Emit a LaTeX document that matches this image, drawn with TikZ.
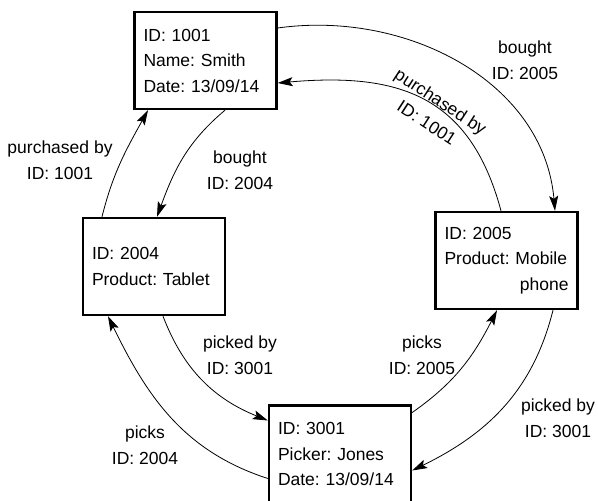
\documentclass[tikz,border=0pt]{standalone}
\usepackage{fontspec}
\setsansfont{Liberation Sans}
\usepackage{tikz}
\usetikzlibrary{arrows.meta, positioning, calc}
\frenchspacing
\tikzstyle{record} = [draw, rectangle, line width=2.4pt, text width=124pt, inner xsep=9pt, minimum height=97pt, align=left]
\tikzstyle{arrow} = [line width=0.8pt, -{Stealth[length=15pt, width=9pt, inset=3pt]}]
\tikzstyle{lbl} = [align=center, inner sep=1pt]

\begin{document}
\begin{tikzpicture}[x=1pt, y=1pt, font=\sffamily\fontsize{17.5}{25.5}\selectfont]
    \useasboundingbox (0,0) rectangle (598,501);

    % Records
    \node (cust) [record] at (205.5,440.5) {ID: 1001\\Name: Smith\\Date: 13/09/14};
    \node (tablet) [record] at (154,234.5) {ID: 2004\\Product: Tablet};
    \node (mobile) [record] at (506.5,240.5) {ID: 2005\\Product: Mobile\\\hspace*{\fill}phone};
    \node (picker) [record] at (340,47) {ID: 3001\\Picker: Jones\\Date: 13/09/14};

    % Customer <-> mobile phone
    \draw[arrow] ([yshift=32.5pt]cust.east) to[out=8, in=95] ([xshift=48.5pt]mobile.north);
    \draw[arrow] ([xshift=-5.5pt]mobile.north) to[out=105, in=5, looseness=1.2] ([yshift=-22.5pt]cust.east);
    \node (l1) [lbl] at (525,441) {bought\\ID: 2005};
    \node (l2) [lbl, rotate=-33] at (434,389) {purchased by\\ID: 1001};

    % Customer <-> tablet
    \draw[arrow] ([xshift=19.5pt]cust.south) to[out=220, in=70] ([xshift=3pt]tablet.north);
    \draw[arrow] ([xshift=-52pt]tablet.north) to[out=76, in=241] ([xshift=-57.5pt]cust.south);
    \node (l3) [lbl] at (240,331) {bought\\ID: 2004};
    \node (l4) [lbl] at (60,341) {purchased by\\ID: 1001};

    % Tablet <-> picker
    \draw[arrow] ([xshift=9pt]tablet.south) to[out=291, in=158] ([yshift=33.5pt]picker.west);
    \draw[arrow] ([yshift=-24.5pt]picker.west) to[out=162, in=296] ([xshift=-46pt]tablet.south);
    \node (l5) [lbl] at (240,146) {picked by\\ID: 3001};
    \node (l6) [lbl] at (145,56) {picks\\ID: 2004};

    % Picker <-> mobile phone
    \draw[arrow] ([yshift=41.5pt]picker.east) to[out=35, in=243] ([xshift=-9.5pt]mobile.south);
    \draw[arrow] ([xshift=46.5pt]mobile.south) to[out=256, in=26] ([yshift=-16.5pt]picker.east);
    \node (l7) [lbl] at (422,146) {picks\\ID: 2005};
    \node (l8) [lbl] at (558,83) {picked by\\ID: 3001};
\end{tikzpicture}
\end{document}
